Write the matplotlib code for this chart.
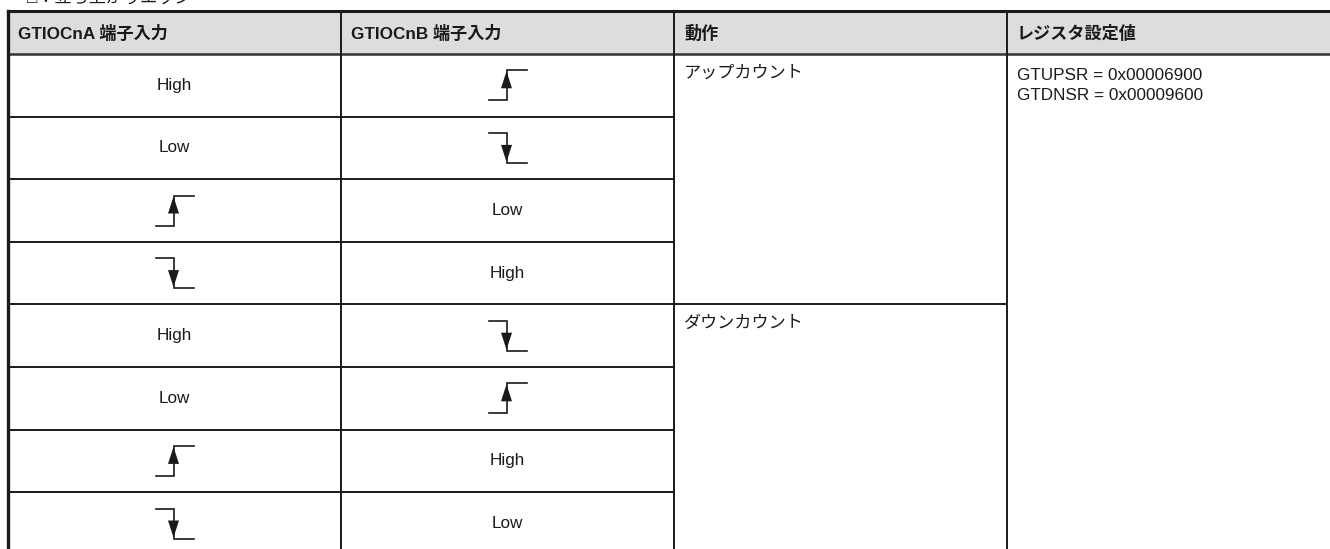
"""GTIOCnA/GTIOCnB phase-count table (up / down count), drawn as a plain matplotlib table."""
import matplotlib
matplotlib.use("Agg")
import matplotlib.pyplot as plt

FONT = ["Liberation Sans", "Noto Sans CJK JP", "DejaVu Sans"]
INK = "#1a1a1a"
HEAD_BG = "#dcdddf"
FS = 12.3

CAPTION = "□：立ち上がりエッジ"
HEADERS = ["GTIOCnA 端子入力", "GTIOCnB 端子入力", "動作", "レジスタ設定値"]
# 'R' = rising edge symbol, 'F' = falling edge symbol
COL_A = ["High", "Low", "R", "F", "High", "Low", "R", "F"]
COL_B = ["R", "F", "Low", "High", "F", "R", "High", "Low"]
ACTIONS = ["アップカウント", "ダウンカウント"]
ACTION_SPAN = 4
REGISTERS = ["GTUPSR = 0x00006900", "GTDNSR = 0x00009600"]

# layout in pixels
W, H = 1330, 549
COL_X = [8, 341, 674, 1007, 1340]
TOP, HEAD_BOT, ROW_H = 11, 54, 62.6


def edge(ax, cx, cy, rising):
    h, l, r = 15, 18, 20
    if rising:
        ax.plot([cx - l, cx, cx, cx + r], [cy + h, cy + h, cy - h, cy - h],
                color=INK, lw=1.2, solid_joinstyle="miter")
        ax.fill([cx - 5.5, cx + 5.5, cx], [cy + 3, cy + 3, cy - h + 1], color=INK, lw=0)
    else:
        ax.plot([cx - l, cx, cx, cx + r], [cy - h, cy - h, cy + h, cy + h],
                color=INK, lw=1.2, solid_joinstyle="miter")
        ax.fill([cx - 5.5, cx + 5.5, cx], [cy - 3, cy - 3, cy + h - 1], color=INK, lw=0)


def cell(ax, val, col, row):
    cx = (COL_X[col] + COL_X[col + 1]) / 2
    cy = HEAD_BOT + (row + 0.5) * ROW_H
    if val in ("R", "F"):
        edge(ax, cx - 1, cy, val == "R")
    else:
        ax.text(cx, cy, val, ha="center", va="center", fontsize=FS,
                family=FONT, color=INK)


fig = plt.figure(figsize=(W / 100, H / 100), dpi=100)
ax = fig.add_axes([0, 0, 1, 1])
ax.set_xlim(0, W); ax.set_ylim(H, 0)
ax.axis("off")

nrows = len(COL_A)

# caption sits mostly above the crop, as in the source page
ax.text(27, -2, CAPTION, ha="left", va="center", fontsize=FS, family=FONT, color=INK)

# header band
ax.fill([COL_X[0], COL_X[-1], COL_X[-1], COL_X[0]], [TOP, TOP, HEAD_BOT, HEAD_BOT],
        color=HEAD_BG, lw=0)
for i, txt in enumerate(HEADERS):
    ax.text(COL_X[i] + 10, (TOP + HEAD_BOT) / 2 + 1, txt, ha="left", va="center",
            fontsize=FS, fontweight="bold", family=FONT, color=INK)

# grid
ax.plot([COL_X[0], COL_X[-1]], [TOP, TOP], color=INK, lw=2.2)
ax.plot([COL_X[0], COL_X[-1]], [HEAD_BOT, HEAD_BOT], color="#333333", lw=1.8)
ax.plot([COL_X[0], COL_X[0]], [TOP, H + 5], color=INK, lw=2.4)
for x in COL_X[1:-1]:
    ax.plot([x, x], [TOP, H + 5], color=INK, lw=1.4)
for r in range(1, nrows + 1):
    y = HEAD_BOT + r * ROW_H
    x_end = COL_X[3] if r % ACTION_SPAN == 0 else COL_X[2]
    ax.plot([COL_X[0], x_end], [y, y], color=INK, lw=1.4)

for r in range(nrows):
    cell(ax, COL_A[r], 0, r)
    cell(ax, COL_B[r], 1, r)

for k, txt in enumerate(ACTIONS):
    y = HEAD_BOT + k * ACTION_SPAN * ROW_H + 19
    ax.text(COL_X[2] + 10, y, txt, ha="left", va="center", fontsize=FS,
            family=FONT, color=INK)

for k, txt in enumerate(REGISTERS):
    ax.text(COL_X[3] + 10, HEAD_BOT + 22 + k * 20, txt, ha="left", va="center",
            fontsize=FS, family=FONT, color=INK)

fig.savefig("out.png", dpi=100)
